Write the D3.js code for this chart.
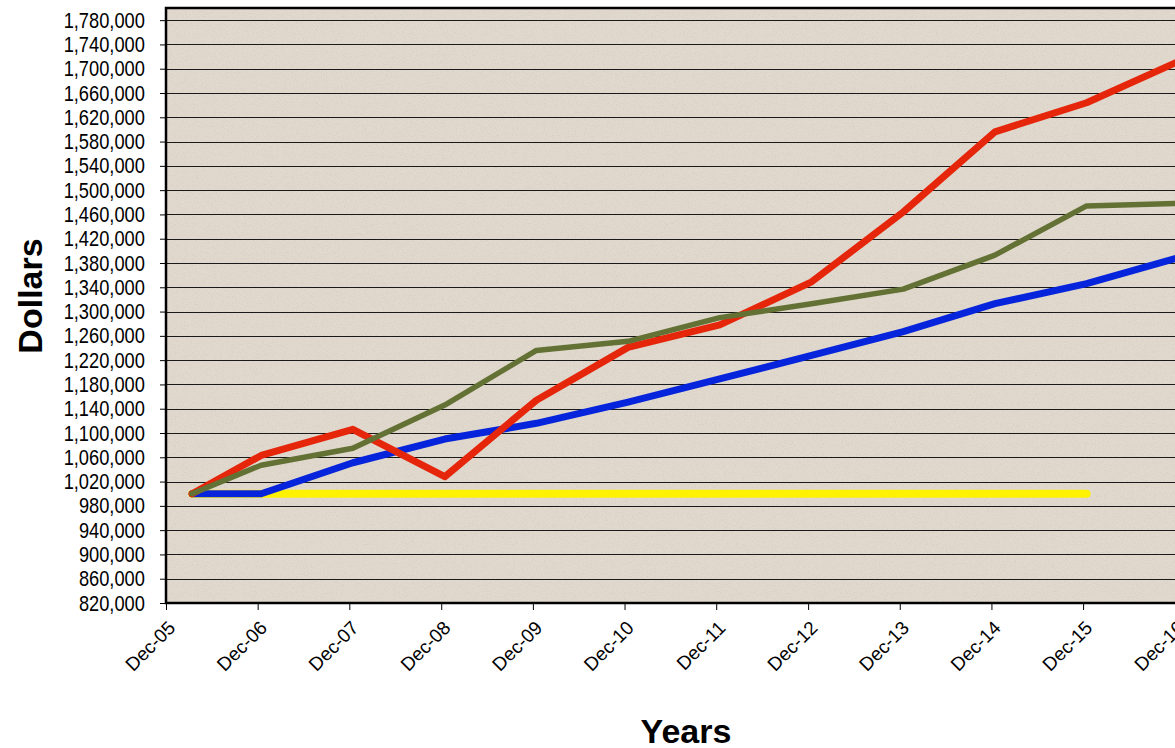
<!DOCTYPE html>
<html>
<head>
<meta charset="utf-8">
<script src="https://cdn.jsdelivr.net/npm/d3@7"></script>
<style>
  body { margin: 0; background: #fff; }
  svg { display: block; font-family: "Liberation Sans", Arial, sans-serif; }
</style>
</head>
<body>
<div id="chart"></div>
<script>
// x tick labels (one per December) and y tick values
var xTickLabels = ["Dec-05", "Dec-06", "Dec-07", "Dec-08", "Dec-09", "Dec-10",
                   "Dec-11", "Dec-12", "Dec-13", "Dec-14", "Dec-15", "Dec-16"];
var yTicks = [820000, 860000, 900000, 940000, 980000, 1020000, 1060000, 1100000,
              1140000, 1180000, 1220000, 1260000, 1300000, 1340000, 1380000, 1420000,
              1460000, 1500000, 1540000, 1580000, 1620000, 1660000, 1700000, 1740000, 1780000];

// dates of the data points
var pointDates = ["2006-03-15", "2006-12-15", "2007-12-15", "2008-12-15", "2009-12-15", "2010-12-15",
                  "2011-12-15", "2012-12-15", "2013-12-15", "2014-12-15", "2015-12-15", "2016-12-15"];

// series values (dollars)
var redValues    = [1000000, 1063000, 1106000, 1028000, 1154000, 1241000, 1278000, 1349000, 1464000, 1596000, 1644000, 1712000];
var greenValues  = [1000000, 1047000, 1075000, 1146000, 1236000, 1251000, 1290000, 1313000, 1337000, 1393000, 1474000, 1478000];
var blueValues   = [1000000, 1000000, 1051000, 1090000, 1116000, 1151000, 1189000, 1228000, 1267000, 1313000, 1346000, 1389000];
var yellowValues = [1000000, 1000000, 1000000, 1000000, 1000000, 1000000, 1000000, 1000000, 1000000, 1000000, 1000000, null];

var W = 1175, H = 748;
// plot area edges (right edge runs past the picture)
var pLeft = 166, pTop = 8, pBottom = 603, pRight = 1206;

var parseTick = d3.timeParse("%b-%y");
var parseDate = d3.timeParse("%Y-%m-%d");
var tickDates = xTickLabels.map(function(s) { return parseTick(s); });

var x = d3.scaleTime()
  .domain([tickDates[0], tickDates[tickDates.length - 1]])
  .range([pLeft, 1175]);
var y = d3.scaleLinear().domain([820000, 1800000]).range([pBottom, pTop]);

var svg = d3.select("#chart").append("svg").attr("width", W).attr("height", H);

// paper-like texture for the plot area
var defs = svg.append("defs");
var f = defs.append("filter").attr("id", "grain")
  .attr("x", 0).attr("y", 0).attr("width", "100%").attr("height", "100%");
f.append("feTurbulence").attr("type", "fractalNoise").attr("baseFrequency", 0.9)
  .attr("numOctaves", 3).attr("seed", 7);
f.append("feColorMatrix").attr("type", "matrix")
  .attr("values", "0 0 0 0 0.45  0 0 0 0 0.42  0 0 0 0 0.38  1.3 0 0 0 -0.62");

svg.append("rect").attr("x", pLeft).attr("y", pTop)
  .attr("width", pRight - pLeft).attr("height", pBottom - pTop).attr("fill", "#e1d9cd");
svg.append("rect").attr("x", pLeft).attr("y", pTop)
  .attr("width", pRight - pLeft).attr("height", pBottom - pTop)
  .attr("filter", "url(#grain)").attr("opacity", 0.5);

// horizontal gridlines
svg.append("g").selectAll("line").data(yTicks)
  .enter().append("line")
  .attr("x1", pLeft).attr("x2", pRight)
  .attr("y1", function(d) { return Math.round(y(d)) + 0.5; })
  .attr("y2", function(d) { return Math.round(y(d)) + 0.5; })
  .attr("stroke", "#1a1a1a").attr("stroke-width", 1);

// y axis
var yAxis = svg.append("g").attr("transform", "translate(" + pLeft + ",0)")
  .call(d3.axisLeft(y).tickValues(yTicks).tickSize(6).tickFormat(d3.format(",")));
yAxis.select(".domain").remove();
yAxis.selectAll("line").attr("stroke", "#000");
yAxis.selectAll("text")
  .attr("x", -25.5)
  .attr("transform", "scale(0.83,1)")
  .attr("font-size", 22).attr("fill", "#000");

// x axis
var xAxis = svg.append("g").attr("transform", "translate(0," + pBottom + ")")
  .call(d3.axisBottom(x).tickValues(tickDates).tickSize(7)
    .tickFormat(function(d, i) { return xTickLabels[i]; }));
xAxis.select(".domain").remove();
xAxis.selectAll("line").attr("stroke", "#000");
xAxis.selectAll("text")
  .attr("x", 0).attr("y", 0).attr("dy", 0)
  .attr("text-anchor", "end")
  .attr("transform", "translate(10,26) rotate(-45)")
  .attr("font-size", 19).attr("fill", "#000");

// series lines, drawn bottom to top
var series = [
  { values: yellowValues, color: "#fff200", width: 8 },
  { values: blueValues,   color: "#0524dc", width: 7 },
  { values: redValues,    color: "#e6260b", width: 7 },
  { values: greenValues,  color: "#637234", width: 5.5 }
];

var line = d3.line()
  .defined(function(d) { return d.v != null; })
  .x(function(d) { return x(d.date); })
  .y(function(d) { return y(d.v); });

svg.append("g").selectAll("path").data(series)
  .enter().append("path")
  .attr("d", function(s) {
    return line(s.values.map(function(v, i) { return { date: parseDate(pointDates[i]), v: v }; }));
  })
  .attr("fill", "none")
  .attr("stroke", function(s) { return s.color; })
  .attr("stroke-width", function(s) { return s.width; })
  .attr("stroke-linejoin", "round")
  .attr("stroke-linecap", "round");

// plot border (left, top, bottom)
svg.append("path")
  .attr("d", "M" + pRight + "," + pTop + "H" + pLeft + "V" + pBottom + "H" + pRight)
  .attr("fill", "none").attr("stroke", "#000").attr("stroke-width", 2.5);

// axis titles
svg.append("text").attr("x", 686).attr("y", 743)
  .attr("text-anchor", "middle").attr("font-size", 34).attr("font-weight", "bold")
  .text("Years");
svg.append("text").attr("transform", "translate(42,296) rotate(-90)")
  .attr("text-anchor", "middle").attr("font-size", 34).attr("font-weight", "bold")
  .text("Dollars");
</script>
</body>
</html>
